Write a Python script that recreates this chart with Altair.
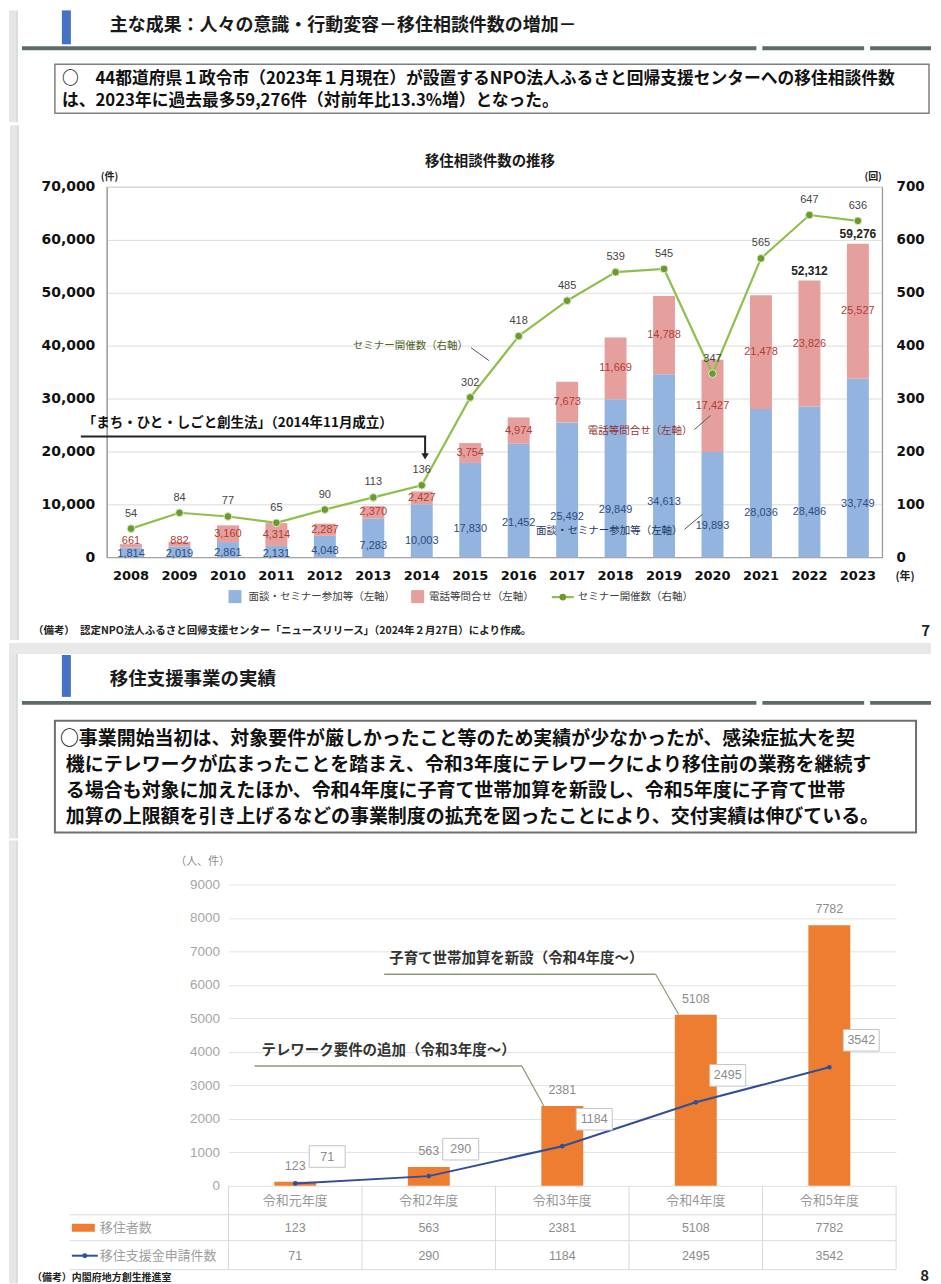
import altair as alt
import pandas as pd

# ---------------- data : chart 1 (移住相談件数の推移) ----------------
years = ["2008", "2009", "2010", "2011", "2012", "2013", "2014", "2015",
         "2016", "2017", "2018", "2019", "2020", "2021", "2022", "2023"]
mendan = [1814, 2019, 2861, 2131, 4048, 7283, 10003, 17830,
          21452, 25492, 29849, 34613, 19893, 28036, 28486, 33749]
denwa = [661, 882, 3160, 4314, 2287, 2370, 2427, 3754,
         4974, 7673, 11669, 14788, 17427, 21478, 23826, 25527]
seminar = [54, 84, 77, 65, 90, 113, 136, 302,
           418, 485, 539, 545, 347, 565, 647, 636]
left_ticks = [0, 10000, 20000, 30000, 40000, 50000, 60000, 70000]
right_ticks = [0, 100, 200, 300, 400, 500, 600, 700]
total_label_years = ["2022", "2023"]

# ---------------- data : chart 2 (移住支援事業の実績) ----------------
fiscal_years = ["令和元年度", "令和2年度", "令和3年度", "令和4年度", "令和5年度"]
ijusha = [123, 563, 2381, 5108, 7782]
shinsei = [71, 290, 1184, 2495, 3542]
ticks2 = [0, 1000, 2000, 3000, 4000, 5000, 6000, 7000, 8000, 9000]

FONT = "Noto Sans CJK JP"
NUM = "DejaVu Sans"
LAT = "Liberation Sans"
one = pd.DataFrame({"k": [0]})


def frame(ox, oy):
    """helpers for decoration placed in page pixels, relative to a panel origin"""
    def R(x1, x2, y1, y2, **kw):
        return alt.Chart(one).mark_rect(**kw).encode(
            x=alt.value(x1 - ox), x2=alt.value(x2 - ox),
            y=alt.value(y1 - oy), y2=alt.value(y2 - oy))

    def L(x1, y1, x2, y2, **kw):
        return alt.Chart(one).mark_rule(**kw).encode(
            x=alt.value(x1 - ox), x2=alt.value(x2 - ox),
            y=alt.value(y1 - oy), y2=alt.value(y2 - oy))

    def T(x, y, s, **kw):
        kw.setdefault("font", FONT)
        kw.setdefault("baseline", "middle")
        kw.setdefault("align", "left")
        return alt.Chart(one).mark_text(text=s, **kw).encode(
            x=alt.value(x - ox), y=alt.value(y - oy))

    def P(x, y, **kw):
        return alt.Chart(one).mark_point(**kw).encode(
            x=alt.value(x - ox), y=alt.value(y - oy))
    return R, L, T, P


def slide_bits(R, L, y1, y2):
    return [R(9, 933, y1, y2, color="white", opacity=0.001),
            R(9, 16, y1, y2, color="#e6e6e6"),
            L(17, y1, 17, y2, color="#d0d0d0", strokeWidth=1.5)]


def spacer():
    return alt.Chart(one).mark_rect(opacity=0).encode(
        x=alt.value(0), x2=alt.value(1), y=alt.value(0), y2=alt.value(1)
    ).properties(width=1, height=1)


LINEC = "#5d6d66"

# ---------------- panel 1 : header of slide 7 ----------------
R, L, T, P = frame(9, 8)
p1 = alt.layer(
    *slide_bits(R, L, 8, 120),
    R(62, 71, 8, 42, color="#4472c4"),
    T(110, 24, "主な成果：人々の意識・行動変容－移住相談件数の増加－",
      fontSize=18, fontWeight="bold", color="#1a1a1a"),
    R(22, 758, 44, 48, color=LINEC), R(764, 866, 44, 48, color=LINEC),
    R(872, 933, 44, 48, color=LINEC),
    R(55, 931, 62, 111, fill="white", stroke="#7f7f7f", strokeWidth=1.5),
    T(62, 77, "○　44都道府県１政令市（2023年１月現在）が設置するNPO法人ふるさと回帰支援センターへの移住相談件数",
      fontSize=16.8, fontWeight="bold", color="#111111"),
    T(62, 99, "は、2023年に過去最多59,276件（対前年比13.3%増）となった。",
      fontSize=16.8, fontWeight="bold", color="#111111"),
).properties(width=924, height=112)

# ---------------- panel 2 : chart 1 ----------------
OX1, OY1 = 106, 182
R, L, T, P = frame(OX1, OY1)
BLUE, RED = "#92b4de", "#e5a09e"
GL, GP = "#8fc04d", "#6b9b30"

df1 = pd.DataFrame({"year": years, "mendan": mendan, "denwa": denwa, "seminar": seminar})
base1 = alt.Chart(df1).transform_calculate(
    total="datum.mendan + datum.denwa",
    bluelab="datum.mendan * 0.3",
).transform_calculate(
    redmid="max(datum.mendan + datum.denwa / 2, datum.bluelab + 2500)",
)
X1 = alt.X("year:N", sort=years, scale=alt.Scale(paddingInner=0, paddingOuter=0),
           axis=alt.Axis(title=None, labelAngle=0, labelFont=NUM, labelFontWeight="bold",
                         labelFontSize=13, labelColor="#111111", ticks=False,
                         domainColor="#9a9a9a", labelPadding=12))
YL = alt.Scale(domain=[0, 70000], nice=False)
YLax = alt.Axis(title=None, values=left_ticks, format=",d", ticks=False, domainColor="#9a9a9a",
                labelFont=NUM, labelFontWeight="bold", labelFontSize=14, labelColor="#111111",
                labelPadding=12, gridColor="#dcdcdc")
YR = alt.Scale(domain=[0, 700], nice=False)
YRax = alt.Axis(title=None, orient="right", values=right_ticks, grid=False, ticks=False,
                domainColor="#9a9a9a", labelFont=NUM, labelFontWeight="bold",
                labelFontSize=13.5, labelColor="#111111", labelPadding=14)

blue = base1.mark_bar(size=22, color=BLUE).encode(
    x=X1, y=alt.Y("mendan:Q", scale=YL, axis=YLax))
red = base1.mark_bar(size=22, color=RED).encode(
    x=X1, y=alt.Y("total:Q", scale=YL, axis=YLax), y2="mendan:Q")
blue_lab = base1.mark_text(font=LAT, fontSize=11, color="#2e4d80").encode(
    x=X1, y=alt.Y("bluelab:Q", scale=YL, axis=YLax), text=alt.Text("mendan:Q", format=","))
red_lab = base1.mark_text(font=LAT, fontSize=11, color="#b13c36").encode(
    x=X1, y=alt.Y("redmid:Q", scale=YL, axis=YLax), text=alt.Text("denwa:Q", format=","))
tot_lab = base1.transform_filter(
    alt.FieldOneOfPredicate(field="year", oneOf=total_label_years)
).mark_text(font=LAT, fontSize=12, fontWeight="bold", color="#222222", dy=-10).encode(
    x=X1, y=alt.Y("total:Q", scale=YL, axis=YLax), text=alt.Text("total:Q", format=","))
left = alt.layer(blue, red, blue_lab, red_lab, tot_lab)

sline = base1.mark_line(color=GL, strokeWidth=2.2).encode(
    x=X1, y=alt.Y("seminar:Q", scale=YR, axis=YRax))
spts = base1.mark_point(filled=True, size=60, color=GP, stroke="#dcebc6",
                        strokeWidth=1, opacity=1).encode(
    x=X1, y=alt.Y("seminar:Q", scale=YR, axis=YRax))
slab = base1.mark_text(font=LAT, fontSize=11, color="#444444", dy=-15).encode(
    x=X1, y=alt.Y("seminar:Q", scale=YR, axis=YRax), text="seminar:Q")
right = alt.layer(sline, spts, slab)

p2 = alt.layer(
    *slide_bits(R, L, 120, 636),
    left, right,
    T(490, 157, "移住相談件数の推移", fontSize=14.5, fontWeight="bold", align="center", color="#1a1a1a"),
    T(100, 172, "(件)", fontSize=10, fontWeight="bold", color="#222222"),
    T(874, 172, "(回)", fontSize=10, fontWeight="bold", align="center", color="#222222"),
    T(906, 573, "(年)", fontSize=11, fontWeight="bold", align="center", color="#222222"),
    # まち・ひと・しごと創生法 arrow
    T(82, 419, "「まち・ひと・しごと創生法」（2014年11月成立）", fontSize=13.5,
      fontWeight="bold", color="#111111"),
    L(80, 432, 426, 432, color="#222222", strokeWidth=2),
    L(425, 432, 425, 450, color="#222222", strokeWidth=2),
    P(425, 452, shape="triangle-down", filled=True, size=55, color="#222222", opacity=1),
    # call-outs
    T(468, 341, "セミナー開催数（右軸）", fontSize=10.5, align="right", color="#4f6228"),
    L(471, 343, 489, 356, color="#555555", strokeWidth=1),
    T(693, 427, "電話等問合せ（左軸）", fontSize=10.5, align="right", color="#943634"),
    L(695, 425, 711, 411, color="#555555", strokeWidth=1),
    T(683, 527, "面談・セミナー参加等（左軸）", fontSize=10.5, align="right", color="#1f3864"),
    L(685, 525, 703, 510, color="#555555", strokeWidth=1),
    # legend
    R(228, 241, 586, 599, color=BLUE),
    T(248, 593, "面談・セミナー参加等（左軸）", fontSize=10.5, color="#404040"),
    R(411, 424, 586, 599, color=RED),
    T(429, 593, "電話等問合せ（左軸）", fontSize=10.5, color="#404040"),
    L(552, 593, 574, 593, color=GL, strokeWidth=2.2),
    P(563, 593, filled=True, size=45, color=GP, opacity=1),
    T(578, 593, "セミナー開催数（右軸）", fontSize=10.5, color="#404040"),
    # source
    T(32, 627, "（備考）　認定NPO法人ふるさと回帰支援センター「ニュースリリース」（2024年２月27日）により作成。",
      fontSize=10.5, fontWeight="bold", color="#222222"),
    T(931, 627, "7", fontSize=15, fontWeight="bold", align="right", color="#222222"),
).resolve_scale(y="independent").properties(
    width=777, height=371, view=alt.ViewBackground(stroke="#a0a0a0", strokeWidth=1.2))

# ---------------- panel 3 : header of slide 8 ----------------
R, L, T, P = frame(9, 636)
BOXF = dict(fontSize=19, fontWeight="bold", color="#111111")
p3 = alt.layer(
    *slide_bits(R, L, 636, 832),
    R(9, 933, 636, 647, color="#e8e8e8"),
    R(62, 71, 648, 690, color="#4472c4"),
    T(110, 672, "移住支援事業の実績", fontSize=18.5, fontWeight="bold", color="#1a1a1a"),
    R(22, 758, 694, 698, color=LINEC), R(764, 866, 694, 698, color=LINEC),
    R(872, 933, 694, 698, color=LINEC),
    R(55, 918, 714, 826, fill="white", stroke="#6f6f6f", strokeWidth=2),
    T(60, 732, "○事業開始当初は、対象要件が厳しかったこと等のため実績が少なかったが、感染症拡大を契", **BOXF),
    T(66, 758, "機にテレワークが広まったことを踏まえ、令和3年度にテレワークにより移住前の業務を継続す", **BOXF),
    T(66, 784, "る場合も対象に加えたほか、令和4年度に子育て世帯加算を新設し、令和5年度に子育て世帯", **BOXF),
    T(66, 810, "加算の上限額を引き上げるなどの事業制度の拡充を図ったことにより、交付実績は伸びている。", **BOXF),
).properties(width=924, height=196)

# ---------------- panel 4 : chart 2 ----------------
OX2, OY2 = 229, 876
R, L, T, P = frame(OX2, OY2)
ORANGE, NAVY = "#ed7d31", "#2f4f9a"
GRAYT = "#8c8c8c"
df2 = pd.DataFrame({"fy": fiscal_years, "ijusha": ijusha, "shinsei": shinsei})
c2 = alt.Chart(df2)
X2 = alt.X("fy:N", sort=fiscal_years, scale=alt.Scale(paddingInner=0, paddingOuter=0),
           axis=alt.Axis(title=None, labelAngle=0, ticks=False, domain=False, labelColor="#9a9a9a",
                         labelFontSize=13, labelPadding=9, labelFont=FONT))
Y2s = alt.Scale(domain=[0, 9000], nice=False)
Y2ax = alt.Axis(title=None, values=ticks2, format="d", ticks=False, domain=False,
                labelColor="#a6a6a6", labelFontSize=13.5, labelPadding=9, labelFont=LAT,
                gridColor="#e2e2e2")
bars2 = c2.mark_bar(size=42, color=ORANGE).encode(x=X2, y=alt.Y("ijusha:Q", scale=Y2s, axis=Y2ax))
bar2_lab = c2.mark_text(font=LAT, fontSize=12.5, color=GRAYT, dy=-16).encode(
    x=X2, y=alt.Y("ijusha:Q", scale=Y2s, axis=Y2ax), text="ijusha:Q")
line2 = c2.mark_line(color=NAVY, strokeWidth=2).encode(
    x=X2, y=alt.Y("shinsei:Q", scale=Y2s, axis=Y2ax))
pts2 = c2.mark_point(filled=True, size=22, color=NAVY, opacity=1).encode(
    x=X2, y=alt.Y("shinsei:Q", scale=Y2s, axis=Y2ax))
box2 = c2.mark_point(shape="M-1,-0.6H1V0.6H-1Z", size=1300, filled=True, fill="white",
                     stroke="#c4c4c4", strokeWidth=1, opacity=1, xOffset=32, yOffset=-27).encode(
    x=X2, y=alt.Y("shinsei:Q", scale=Y2s, axis=Y2ax))
lab2 = c2.mark_text(font=LAT, fontSize=12.5, color=GRAYT, dx=32, dy=-27).encode(
    x=X2, y=alt.Y("shinsei:Q", scale=Y2s, axis=Y2ax), text="shinsei:Q")
vrules = c2.mark_rule(color="#d9d9d9", strokeWidth=1).encode(
    x=alt.X("fy:N", sort=fiscal_years, bandPosition=0), y=alt.value(302), y2=alt.value(386))
row1 = c2.mark_text(font=LAT, fontSize=12.5, color=GRAYT).encode(
    x=X2, y=alt.value(1220 - OY2), text="ijusha:Q")
row2 = c2.mark_text(font=LAT, fontSize=12.5, color=GRAYT).encode(
    x=X2, y=alt.value(1248 - OY2), text="shinsei:Q")

p4 = alt.layer(
    *slide_bits(R, L, 832, 1276),
    bars2, line2, pts2, box2, lab2, bar2_lab,
    vrules, row1, row2,
    L(898, 1178, 898, 1262, color="#d9d9d9", strokeWidth=1),
    L(70, 1207, 898, 1207, color="#d9d9d9", strokeWidth=1),
    L(70, 1233, 898, 1233, color="#d9d9d9", strokeWidth=1),
    L(70, 1262, 898, 1262, color="#d9d9d9", strokeWidth=1),
    R(72, 95, 1216, 1224, color=ORANGE),
    T(100, 1220, "移住者数", fontSize=13, color="#a0a0a0"),
    L(72, 1248, 98, 1248, color=NAVY, strokeWidth=2),
    P(85, 1248, filled=True, size=25, color=NAVY, opacity=1),
    T(100, 1248, "移住支援金申請件数", fontSize=13, color="#a0a0a0"),
    T(203, 853, "（人、件）", fontSize=11, align="center", color="#8c8c8c"),
    T(390, 951, "子育て世帯加算を新設（令和4年度～）", fontSize=14.5, fontWeight="bold", color="#333333"),
    L(385, 966, 657, 966, color="#8a9a78", strokeWidth=1.5),
    L(657, 966, 680, 1006, color="#8a9a78", strokeWidth=1.2),
    T(262, 1043, "テレワーク要件の追加（令和3年度～）", fontSize=14.5, fontWeight="bold", color="#333333"),
    L(255, 1058, 523, 1058, color="#8a9a78", strokeWidth=1.5),
    L(523, 1058, 545, 1098, color="#8a9a78", strokeWidth=1.2),
    T(32, 1270, "（備考）内閣府地方創生推進室", fontSize=10, fontWeight="bold", color="#222222"),
    T(931, 1268, "8", fontSize=15, fontWeight="bold", align="right", color="#222222"),
).properties(width=669, height=302)

chart = alt.vconcat(
    alt.hconcat(spacer(), p1, spacing=0),
    alt.hconcat(spacer(), p2, spacing=0),
    alt.hconcat(spacer(), p3, spacing=0),
    alt.hconcat(spacer(), p4, spacing=0),
    spacing=0,
).properties(padding=0).configure(font=FONT).configure_view(strokeWidth=0)

chart.save("out.html", embed_options={"renderer": "svg", "actions": False})
